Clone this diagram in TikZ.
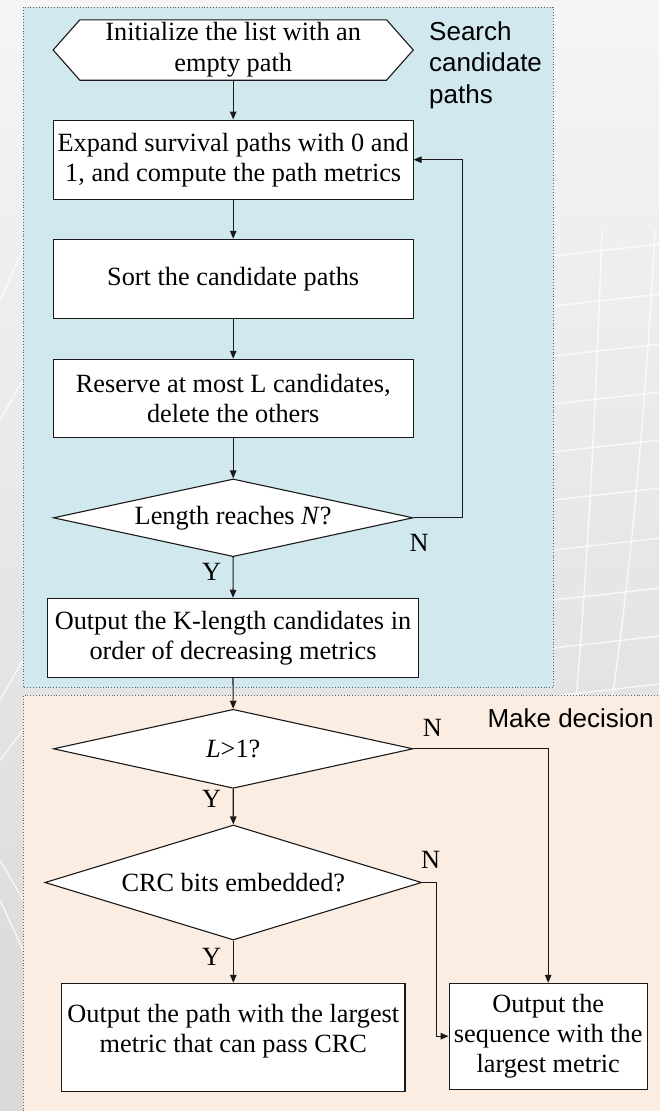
\documentclass[tikz,border=0pt]{standalone}
\usepackage{fontspec}
\setmainfont{Liberation Serif}
\setsansfont{Liberation Sans}
\usetikzlibrary{shapes.geometric,arrows.meta}
\pgfdeclarelayer{canvas}
\pgfdeclarelayer{outline}
\pgfsetlayers{canvas,outline,main}
\definecolor{searchbg}{RGB}{209,233,238}
\definecolor{decidebg}{RGB}{252,237,227}
\definecolor{framegray}{RGB}{95,95,95}
\definecolor{inkline}{RGB}{25,25,25}
\begin{document}
\begin{tikzpicture}[x=1pt,y=-1pt,
  every node/.style={font=\fontsize{26.3}{30}\selectfont},
  box/.style={draw=inkline, fill=white, line width=1.1pt, inner sep=0pt, align=center},
  decision/.style={diamond, draw=inkline, fill=white, line width=1.1pt, inner sep=0pt},
  flow/.style={draw=inkline, line width=1.1pt, -{Triangle[length=8pt,width=6.5pt]}},
  panel/.style={draw=framegray, dotted, line width=0.9pt},
  tag/.style={inner sep=0pt},
  heading/.style={font=\sffamily\fontsize{26}{31.7}\selectfont, align=left, inner sep=0pt, anchor=west},
  grid/.style={white, line width=1.4pt, opacity=0.75}
]
\useasboundingbox (0,0) rectangle (659,1111);

% ---- backdrop and the two stage panels ----
\begin{pgfonlayer}{canvas}
  \shade[top color=black!4, bottom color=black!15] (0,0) rectangle (659,1111);
  % faint grid of the backdrop
  \foreach \yy in {250,300,350,398,446,494,544,594,642,690} {
    \draw[grid] (553,\yy+6) .. controls (590,\yy+2) and (625,\yy-2) .. (660,\yy-6);
  }
  \draw[grid] (602,230) .. controls (596,400) and (588,560) .. (576,700);
  \draw[grid] (655,230) .. controls (646,400) and (632,560) .. (612,700);
  \draw[grid] (0,300) -- (23,250);
  \draw[grid] (0,420) -- (23,380);
  \draw[grid] (0,700) -- (23,660);
  \draw[grid] (0,760) -- (23,730);
  \draw[grid] (0,860) -- (23,900);
  \draw[grid] (0,900) -- (23,950);
  % stage 1: search candidate paths
  \fill[searchbg] (23.3,7.3) rectangle (553.3,687.7);
  \draw[panel] (23.3,7.3) rectangle (553.3,687.7);
  % stage 2: make decision
  \fill[decidebg] (23.3,695) rectangle (670,1120);
  \draw[panel] (23.3,1120) -- (23.3,695) -- (670,695);
\end{pgfonlayer}

% ---- stage 1 ----
\node[inner sep=0pt, align=center, minimum width=359.7pt, minimum height=60pt,
      font=\fontsize{26.3}{31}\selectfont] (init) at (233.2,50)
  {Initialize the list with an\\empty path};
\begin{pgfonlayer}{outline}
  \draw[inkline, fill=white, line width=1.1pt]
    (init.west) -- ([xshift=26.7pt]init.north west) -- ([xshift=-26.7pt]init.north east)
    -- (init.east) -- ([xshift=-26.7pt]init.south east) -- ([xshift=26.7pt]init.south west) -- cycle;
\end{pgfonlayer}

\node[box, minimum width=359.7pt, minimum height=79.3pt] (expand) at (233.2,159.7)
  {Expand survival paths with 0 and\\1, and compute the path metrics};
\node[box, minimum width=359.7pt, minimum height=79pt] (sort) at (233.2,278.8)
  {Sort the candidate paths};
\node[box, minimum width=359.7pt, minimum height=78.4pt] (reserve) at (233.2,398.5)
  {Reserve at most L candidates,\\delete the others};
\node[decision, aspect=4.6, minimum width=359.7pt, minimum height=77.7pt] (lenchk) at (233.2,517.8)
  {Length reaches \textit{N}?};
\node[box, minimum width=370.6pt, minimum height=79pt] (kout) at (233,637.8)
  {Output the K-length candidates in\\order of decreasing metrics};

\node[heading] (searchlbl) at (429,65) {Search\\candidate\\paths};

% ---- stage 2 ----
\node[decision, aspect=4.55, minimum width=359.7pt, minimum height=79pt] (lchk) at (233.2,748.8)
  {\textit{L}>1?};
\node[decision, aspect=3.28, minimum width=376.7pt, minimum height=115pt] (crcchk) at (233.3,882.5)
  {CRC bits embedded?};
% the text in this box sits a little above its middle
\node[box, minimum width=343.3pt, minimum height=108.4pt] (crcout) at (233.3,1037.5)
  {\raisebox{0pt}[0pt][0pt]{\begin{tabular}{@{}c@{}}Output the path with the largest\\metric that can pass CRC\end{tabular}}};
\node[box, minimum width=198.3pt, minimum height=105.7pt] (seqout) at (548.2,1036.2)
  {Output the\\sequence with the\\largest metric};

\node[heading] (decidelbl) at (487.3,718.3) {Make decision};

% ---- connectors ----
\draw[flow] (init.south) -- (expand.north);
\draw[flow] (expand.south) -- (sort.north);
\draw[flow] (sort.south) -- (reserve.north);
\draw[flow] (reserve.south) -- (lenchk.north);
\draw[flow] (lenchk.south) -- (kout.north);
\draw[flow] (lenchk.east) -- ++(48.7,0) |- (expand.east);
\draw[flow] (kout.south) -- (lchk.north);
\draw[flow] (lchk.south) -- (crcchk.north);
\draw[flow] (lchk.east) -| (seqout.north);
\draw[flow] (crcchk.south) -- (crcout.north);
\draw[flow] (crcchk.east) -- ++(14,0) |- (seqout.west);

% ---- branch labels ----
\node[tag] (lenno) at (419,543.3) {N};
\node[tag] (lenyes) at (211.7,571.7) {Y};
\node[tag] (lno) at (432.3,728.3) {N};
\node[tag] (lyes) at (211.7,799.3) {Y};
\node[tag] (crcno) at (430.7,860) {N};
\node[tag] (crcyes) at (211.7,956.7) {Y};
\end{tikzpicture}
\end{document}
